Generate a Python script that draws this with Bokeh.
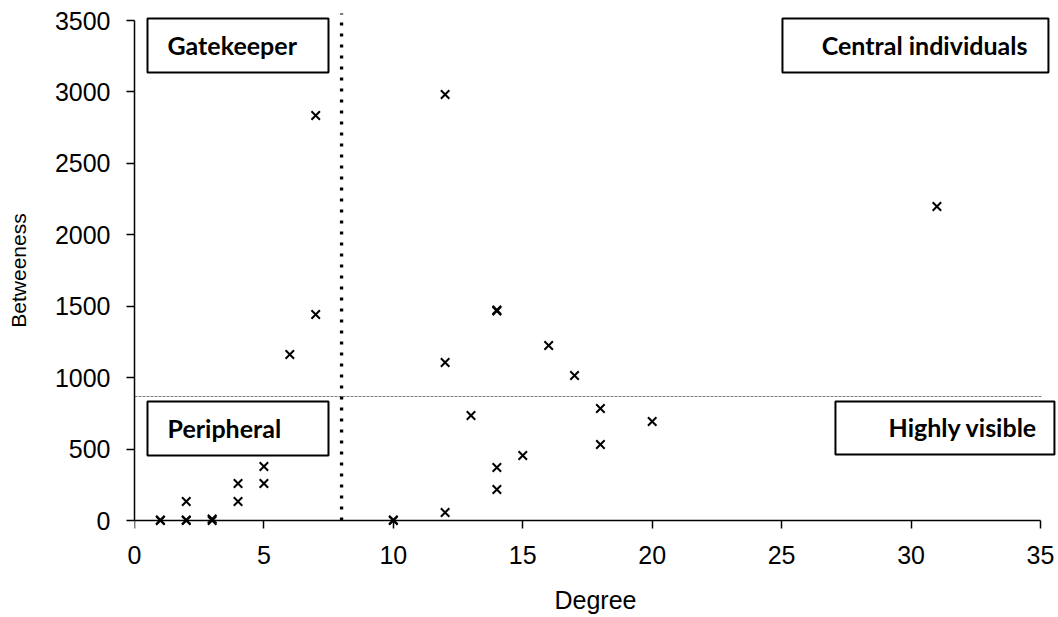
from bokeh.plotting import figure
from bokeh.models import Range1d, FixedTicker, BoxAnnotation, Label, LinearAxis
from bokeh.embed import file_html
from bokeh.resources import INLINE

# ---- data ----
degree = [1, 1, 2, 2, 3, 3, 2, 4, 4, 5, 5, 6, 7, 7, 10, 10, 12, 12, 12, 13,
          14, 14, 14, 14, 15, 16, 17, 18, 18, 20, 31]
betweeness = [0, 4, 0, 4, 0, 10, 133, 133, 259, 259, 378, 1162, 1442, 2835, 0, 3,
              56, 1106, 2982, 735, 1466, 1474, 371, 217, 455, 1225, 1015, 784, 532,
              693, 2198]
degree_threshold = 8
betweeness_threshold = 868
x_ticks = [0, 5, 10, 15, 20, 25, 30, 35]
y_ticks = [0, 500, 1000, 1500, 2000, 2500, 3000, 3500]
quadrant_labels = ["Gatekeeper", "Central individuals", "Peripheral", "Highly visible"]

# ---- pixel -> data helpers (layout only) ----
PX_X0, PX_PER_X = 134.0, 25.886
PX_Y0, Y_PER_PX = 520.0, 7.0


def dx(px):
    return (px - PX_X0) / PX_PER_X


def dy(py):
    return (PX_Y0 - py) * Y_PER_PX


p = figure(frame_width=922, frame_height=518,
           min_border_left=134, min_border_right=2, min_border_top=11, min_border_bottom=85,
           x_range=Range1d(0, 35.62), y_range=Range1d(-63, 3563),
           output_backend="svg", toolbar_location=None)
p.outline_line_color = None
p.grid.visible = False
p.background_fill_color = "white"
p.border_fill_color = "white"

LABEL_FONT = "Liberation Sans"

# x axis: labels only (at frame bottom)
xa = p.xaxis[0]
xa.bounds = (0, 35)
xa.ticker = FixedTicker(ticks=x_ticks)
xa.axis_line_color = None
xa.major_tick_line_color = None
xa.minor_tick_line_color = None
xa.major_tick_out = 0
xa.major_tick_in = 0
xa.major_label_text_font = LABEL_FONT
xa.major_label_text_font_size = "25px"
xa.major_label_text_color = "black"
xa.major_label_standoff = 16
xa.axis_label = "Degree"
xa.axis_label_text_font = LABEL_FONT
xa.axis_label_text_font_size = "25px"
xa.axis_label_text_font_style = "normal"
xa.axis_label_text_color = "black"
xa.axis_label_standoff = 19

# x axis line + ticks at y = 0 (its labels are not painted)
x0axis = LinearAxis(fixed_location=0, bounds=(0, 35), ticker=FixedTicker(ticks=x_ticks),
                    axis_line_color="black", axis_line_width=1.5,
                    major_tick_line_color="black", major_tick_line_width=1.5,
                    major_tick_out=8, major_tick_in=0, minor_tick_line_color=None,
                    major_label_text_color=None, major_label_text_font_size="8px",
                    major_label_standoff=0)
p.add_layout(x0axis, "below")

# y axis
ya = p.yaxis[0]
ya.bounds = (0, 3500)
ya.ticker = FixedTicker(ticks=y_ticks)
ya.axis_line_color = "black"
ya.axis_line_width = 1.5
ya.major_tick_line_color = "black"
ya.major_tick_line_width = 1.5
ya.major_tick_out = 8
ya.major_tick_in = 0
ya.minor_tick_line_color = None
ya.major_label_text_font = LABEL_FONT
ya.major_label_text_font_size = "25px"
ya.major_label_text_color = "black"
ya.major_label_standoff = 16
ya.axis_label = "Betweeness"
ya.axis_label_text_font = LABEL_FONT
ya.axis_label_text_font_size = "21px"
ya.axis_label_text_font_style = "normal"
ya.axis_label_text_color = "black"
ya.axis_label_standoff = 22

# threshold lines
p.segment(x0=[0], y0=[betweeness_threshold], x1=[dx(1042)], y1=[betweeness_threshold],
          line_color="#808080", line_width=1, line_dash="3 1")
p.segment(x0=[degree_threshold], y0=[0], x1=[degree_threshold], y1=[dy(13)],
          line_color="black", line_width=3.3, line_dash="3 8")

# points
p.scatter(degree, betweeness, marker="x", size=12, line_color="black", line_width=2)

# quadrant boxes
boxes = [
    (147, 328, 18, 72),
    (782, 1048, 18, 72),
    (147, 328, 401, 455),
    (835, 1054, 401, 454),
]
text_pos = [
    (167, "left"),
    (1027, "right"),
    (167, "left"),
    (1037, "right"),
]
for (l, r, t, b), (tx, al), txt in zip(boxes, text_pos, quadrant_labels):
    p.add_layout(BoxAnnotation(left=dx(l), right=dx(r), top=dy(t), bottom=dy(b),
                               fill_color="white", fill_alpha=1.0,
                               line_color="black", line_width=2, line_alpha=1.0))
    p.add_layout(Label(x=dx(tx), y=dy((t + b) / 2 - 1), text=txt,
                       text_align=al, text_baseline="middle",
                       text_font="Lato", text_font_style="bold",
                       text_font_size="25px", text_color="black"))

open("out.html", "w").write(file_html(p, INLINE))
